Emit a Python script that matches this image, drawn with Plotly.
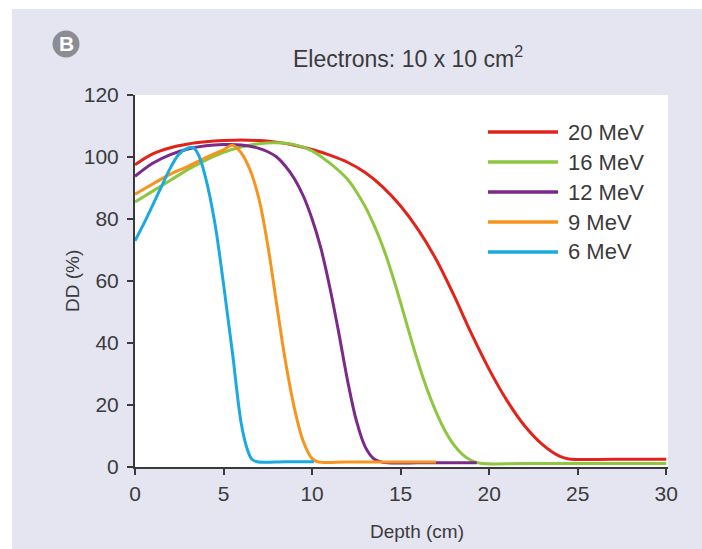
import plotly.graph_objects as go

# Percent depth dose curves, electron beams, 10 x 10 cm2 field
energies = ["20 MeV", "16 MeV", "12 MeV", "9 MeV", "6 MeV"]
colors = ["#e2231a", "#8dc63f", "#7b2a8a", "#f7941d", "#1ba9e1"]

depth_20 = [0, 1, 2, 3, 4, 5, 6, 7, 8, 9, 10, 11, 12, 13, 14, 15, 16, 17, 18,
            19, 20, 21, 22, 23, 24, 24.5, 27, 30]
dd_20 = [97.5, 101, 103, 104.2, 104.9, 105.3, 105.5, 105.3, 104.8, 103.8, 102.4,
         100.6, 98.3, 95.0, 90.3, 84.2, 76.5, 67.0, 55.5, 43.0, 31.5, 21.5, 13.3,
         7.3, 3.4, 2.6, 2.5, 2.5]

depth_16 = [0, 1, 2, 3, 4, 5, 6, 7, 8, 9, 10, 11, 12, 12.5, 13, 13.5, 14, 14.5,
            15, 15.5, 16, 16.5, 17, 17.5, 18, 18.5, 19, 19.5, 22, 26, 30]
dd_16 = [85.5, 89, 92.5, 96.0, 99.0, 101.5, 103.2, 104.3, 104.6, 104.0, 102.0,
         98.0, 92.8, 88.8, 84.0, 78.0, 71.0, 62.5, 53.0, 43.0, 33.5, 25.0, 17.8,
         11.8, 7.2, 4.0, 2.1, 1.2, 1.1, 1.1, 1.1]

depth_12 = [0, 1, 2, 3, 4, 5, 6, 7, 7.5, 8, 8.5, 9, 9.5, 10, 10.5, 11, 11.5, 12,
            12.5, 13, 13.5, 14, 16, 19.3]
dd_12 = [93.8, 98, 100.8, 102.6, 103.6, 104, 103.9, 102.8, 101.7, 100.0, 97.0,
         93.0, 87.5, 80.0, 70.5, 58.0, 43.5, 28.0, 15.0, 6.5, 2.6, 1.5, 1.4, 1.4]

depth_9 = [0, 1, 2, 3, 4, 5, 5.5, 6, 6.5, 7, 7.5, 8, 8.5, 9, 9.5, 10, 10.3,
           12, 14.5, 17]
dd_9 = [88, 91.3, 94.5, 97, 99.8, 102.3, 103.8, 101.3, 95.8, 86.5, 71.5, 52.5,
        34.0, 19.0, 8.3, 2.7, 1.7, 1.6, 1.6, 1.6]

depth_6 = [0, 0.5, 1, 1.5, 2, 2.5, 3, 3.3, 3.6, 4, 4.5, 5, 5.5, 6, 6.3, 6.6,
           6.9, 8.5, 10.1]
dd_6 = [73, 78.5, 84.5, 90.5, 96.5, 101, 102.9, 103, 100.5, 93, 79, 59, 37, 14,
        6.5, 2.5, 1.7, 1.7, 1.7]

depths = [depth_20, depth_16, depth_12, depth_9, depth_6]
doses = [dd_20, dd_16, dd_12, dd_9, dd_6]

x_ticks = [0, 5, 10, 15, 20, 25, 30]
y_ticks = [0, 20, 40, 60, 80, 100, 120]

FONT = "Liberation Sans, Arial, Helvetica, sans-serif"
TEXT = "#3b3b3b"
AXIS = "#3a3a3a"
BG = "#e5e4f1"

fig = go.Figure()
for name, col, x, y in zip(energies, colors, depths, doses):
    fig.add_trace(go.Scatter(
        x=x, y=y, mode="lines", name=name,
        line=dict(color=col, width=3, shape="spline", smoothing=1.0),
        showlegend=False, hoverinfo="skip",
    ))

# plot area in pixels: left 135, right 668, top 95, bottom 467
L, R, T, B = 135, 668, 95, 467
W, H = R - L, B - T


def px(xp):
    return (xp - L) / W


def py(yp):
    return (B - yp) / H


shapes = [
    # white frame strips around the lavender panel
    dict(type="rect", xref="paper", yref="paper", x0=-0.4, x1=px(12), y0=-0.4, y1=1.4,
         fillcolor="white", line=dict(width=0), layer="below"),
    dict(type="rect", xref="paper", yref="paper", x0=-0.4, x1=1.4, y0=py(9), y1=1.4,
         fillcolor="white", line=dict(width=0), layer="below"),
    # panel badge
    dict(type="circle", xref="paper", yref="paper",
         x0=px(66 - 13.5), x1=px(66 + 13.5), y0=py(44 + 13.5), y1=py(44 - 13.5),
         fillcolor="#8c8c94", line=dict(width=0)),
]

annotations = [
    dict(text="B", x=px(66), y=py(44), xref="paper", yref="paper", showarrow=False,
         font=dict(family=FONT, size=21, color="white", weight="bold"),
         xanchor="center", yanchor="middle"),
    dict(text="Electrons: 10 x 10 cm<sup>2</sup>", x=px(408), y=py(57), xref="paper",
         yref="paper", showarrow=False, font=dict(family=FONT, size=23, color=TEXT),
         xanchor="center", yanchor="middle"),
    dict(text="DD (%)", x=px(72), y=0.5, xref="paper", yref="paper", showarrow=False,
         textangle=-90, font=dict(family=FONT, size=19, color=TEXT),
         xanchor="center", yanchor="middle"),
    dict(text="Depth (cm)", x=px(417), y=py(531), xref="paper", yref="paper",
         showarrow=False, font=dict(family=FONT, size=19, color=TEXT),
         xanchor="center", yanchor="middle"),
]

# legend: long line samples with labels
row_y = [132, 162, 192, 222, 252]
for name, col, yy in zip(energies, colors, row_y):
    shapes.append(dict(type="line", xref="paper", yref="paper", x0=px(488), x1=px(558),
                       y0=py(yy), y1=py(yy), line=dict(color=col, width=3.5)))
    annotations.append(dict(text=name, x=px(566), y=py(yy), xref="paper", yref="paper",
                            showarrow=False, xanchor="left", yanchor="middle",
                            font=dict(family=FONT, size=22, color=TEXT)))

fig.update_layout(
    width=702, height=549,
    margin=dict(l=L, r=702 - R, t=T, b=549 - B),
    paper_bgcolor=BG, plot_bgcolor="white",
    font=dict(family=FONT, color=TEXT),
    shapes=shapes, annotations=annotations,
    showlegend=False,
)
fig.update_xaxes(range=[0, 30.1], tickvals=x_ticks, ticktext=[str(v) for v in x_ticks],
                 showgrid=False, zeroline=False, showline=True, linecolor=AXIS,
                 linewidth=2, ticks="outside", ticklen=6, tickwidth=1.5,
                 tickcolor=AXIS, tickfont=dict(family=FONT, size=21, color=TEXT),
                 ticklabelstandoff=1)
fig.update_yaxes(range=[0, 120], tickvals=y_ticks, ticktext=[str(v) for v in y_ticks],
                 showgrid=False, zeroline=False, showline=True, linecolor=AXIS,
                 linewidth=2, ticks="outside", ticklen=6, tickwidth=1.5,
                 tickcolor=AXIS, tickfont=dict(family=FONT, size=21, color=TEXT),
                 ticklabelstandoff=4)

fig.write_html("out.html")
